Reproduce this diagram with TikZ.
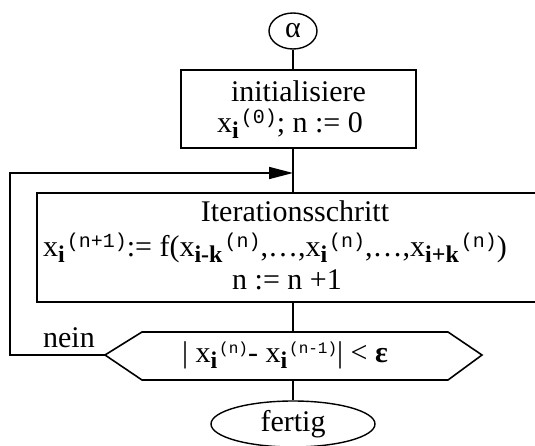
\documentclass[tikz,border=0pt]{standalone}
\usepackage{fontspec}
\setmainfont{Liberation Serif}
\setmonofont{Liberation Mono}
\usetikzlibrary{shapes.geometric,arrows.meta}
\newcommand\mysub[1]{\raisebox{-6pt}{\fontsize{24}{24}\selectfont\bfseries #1}}
\newcommand\mysup[2][20]{\hspace{2pt}\raisebox{9pt}{\fontsize{#1}{#1}\selectfont\ttfamily #2}}
\begin{document}
\begin{tikzpicture}[x=1pt,y=-1pt,
  every node/.style={font=\fontsize{30}{36}\selectfont, inner sep=0pt},
  ln/.style={line width=1.6pt},
  boxx/.style={draw, line width=1.6pt, rectangle},
  ell/.style={draw, line width=1.4pt, ellipse},
  txt/.style={anchor=base}]
\useasboundingbox (0,0) rectangle (535,446);
\node[ell, minimum width=48pt, minimum height=36pt] (alpha) at (293,31) {α};
\node[boxx, minimum width=235pt, minimum height=78pt] (init) at (298.5,109) {};
\node[txt] (t1) at (298.5,102) {initialisiere};
\node[txt] (t2) at (290,133) {x\mysub{i}\mysup{(0)}; n := 0};
\node[boxx, minimum width=533pt, minimum height=109pt] (iter) at (303.5,247.5) {};
\node[txt] (t3) at (295,222) {Iterationsschritt};
\node[txt] (t4) at (275,256) {x\mysub{i}\mysup{(n+1)}:= f(x\mysub{i-k}\mysup{(n)},\dots,x\mysub{i}\mysup{(n)},\dots,x\mysub{i+k}\mysup{(n)})};
\node[txt] (t5) at (287,289) {n := n +1};
% hexagon
\coordinate (hw) at (105,355);
\coordinate (htl) at (142,332);
\coordinate (htr) at (448,332);
\coordinate (he) at (482,355);
\coordinate (hbr) at (448,380);
\coordinate (hbl) at (142,380);
\coordinate (htop) at (293,332);
\coordinate (hbot) at (293,380);
\draw[ln, line join=miter] (hw) -- (htl) -- (htr) -- (he) -- (hbr) -- (hbl) -- cycle;
\node[txt] (t6) at (285,362) {| x\mysub{i}\mysup[16]{(n)}- x\mysub{i}\mysup[16]{(n-1)}| < \textbf{ε}};
\node[txt, anchor=base east] (nein) at (95,347) {nein};
\node[ell, minimum width=164pt, minimum height=46pt] (fertig) at (293,424) {fertig};
% connectors
\draw[ln] (alpha.south) -- (init.north -| alpha.south);
\draw[ln] (init.south -| alpha.south) -- (iter.north -| alpha.south);
\draw[ln] (iter.south -| alpha.south) -- (htop);
\draw[ln] (hbot) -- (fertig.north);
\coordinate (lb) at (10,355);
\coordinate (lt) at (10,173);
\coordinate (la) at (293,173);
\draw[ln, -{Triangle[length=24pt,width=12pt]}] (hw) -- (lb) -- (lt) -- (la);
\end{tikzpicture}
\end{document}
